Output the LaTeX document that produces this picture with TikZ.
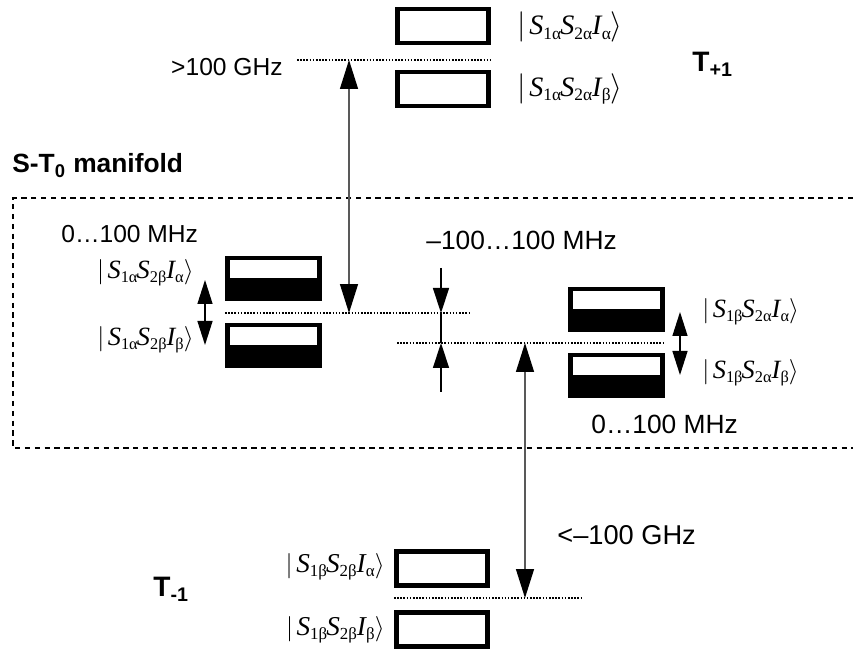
\documentclass[tikz,border=0pt]{standalone}
\usepackage{fontspec}
\setmainfont{Liberation Sans}
\newfontfamily\ketfont{Liberation Serif}
\usetikzlibrary{arrows.meta}
\newcommand{\ketsub}[1]{\raisebox{-0.35ex}{\fontsize{0.62\dimexpr\fontdimen6\font\relax}{1em}\selectfont #1}}
\newcommand{\ketlab}[3]{{\ketfont$\big|$\kern2pt\textit{S}\ketsub{#1}\kern-0.5pt\textit{S}\ketsub{#2}\textit{I}\kern-0.5pt\ketsub{#3}$\big\rangle$}}

\begin{document}
\begin{tikzpicture}[x=0.02cm,y=-0.02cm]
\tikzset{plainlevel/.style={draw, line width=2.7pt, minimum width=1.82cm, minimum height=0.68cm, inner sep=0pt},
  splitlevel/.style={fill=black, minimum width=1.94cm, minimum height=0.9cm, inner sep=0pt,
    path picture={\fill[white] ([xshift=0.1cm,yshift=-0.08cm]path picture bounding box.north west) rectangle ([xshift=-0.1cm,yshift=-0.44cm]path picture bounding box.north east);}},
  ketnode/.style={inner sep=0pt, font=\fontsize{16}{18}\selectfont},
  freqlab/.style={inner sep=0pt, anchor=base west, font=\fontsize{14}{16}\selectfont},
  manlab/.style={inner sep=0pt, anchor=base west, font=\fontsize{16}{18}\selectfont\bfseries},
  centre/.style={line width=1pt, dash pattern=on 0.9pt off 0.9pt},
  bigarrow/.style={{Triangle[black,width=0.36cm,length=0.58cm]}-{Triangle[black,width=0.36cm,length=0.58cm]}, gray!70!black, line width=0.8pt},
  pairarrow/.style={{Triangle[width=0.3cm,length=0.48cm]}-{Triangle[width=0.3cm,length=0.48cm]}, line width=0.8pt},
  shiftarrow/.style={-{Triangle[width=0.32cm,length=0.5cm]}, line width=0.8pt}}
\useasboundingbox (0,0) rectangle (853,651);
% T+1 levels
\node[plainlevel] (Tp1) at (443,26) {};
\node[plainlevel] (Tp2) at (443,89) {};
\node[ketnode, anchor=west] (kTp1) at (517,27) {\ketlab{1α}{2α}{α}};
\node[ketnode, anchor=west] (kTp2) at (517,89) {\ketlab{1α}{2α}{β}};
\coordinate (cTpL) at (297,60);
\coordinate (cTpR) at (490,60);
\coordinate (cTpA) at (349,60);
\draw[centre] (cTpL) -- (cTpR);
\node[freqlab, anchor=base east] (fTp) at (283,76) {>100 GHz};
\node[manlab] (nTp) at (692,72) {T\textsubscript{+1}};
% S-T0 manifold
\node[manlab, font=\fontsize{15}{17}\selectfont\bfseries] (nST) at (12,173) {S-T\textsubscript{0} manifold};
\coordinate (frTL) at (13,198);
\coordinate (frTR) at (853,198);
\coordinate (frBL) at (13,448);
\coordinate (frBR) at (853,448);
\draw[line width=1.3pt, dash pattern=on 3pt off 2.6pt] (frTR) -- (frTL) -- (frBL) -- (frBR);
% left pair
\node[freqlab] (fSa) at (61,243) {0…100 MHz};
\node[splitlevel] (Sa1) at (273.5,278.5) {};
\node[splitlevel] (Sa2) at (273.5,345.5) {};
\node[ketnode, anchor=east, font=\fontsize{15}{17}\selectfont] (kSa1) at (194,273) {\ketlab{1α}{2β}{α}};
\node[ketnode, anchor=east, font=\fontsize{15}{17}\selectfont] (kSa2) at (194,340) {\ketlab{1α}{2β}{β}};
\coordinate (cSaL) at (225,313);
\coordinate (cSaR) at (471,313);
\coordinate (cSaA) at (349,313);
\draw[centre] (cSaL) -- (cSaR);
\coordinate (pSa1) at (205,280);
\coordinate (pSa2) at (205,345);
\draw[pairarrow] (pSa1) -- (pSa2);
% shift between pairs
\node[freqlab, font=\fontsize{15}{17}\selectfont] (fSh) at (426,250) {–100…100 MHz};
\coordinate (cSbL) at (397,343);
\coordinate (cSbR) at (665,343);
\coordinate (cSbA) at (525,343);
\draw[centre] (cSbL) -- (cSbR);
\coordinate (sh1) at (441,268);
\coordinate (sh2) at (441,313);
\coordinate (sh3) at (441,343);
\coordinate (sh4) at (441,392);
\draw[shiftarrow] (sh1) -- (sh2);
\draw[shiftarrow] (sh4) -- (sh3);
\draw[line width=0.8pt] (sh2) -- (sh3);
% right pair
\node[splitlevel] (Sb1) at (616.5,309.5) {};
\node[splitlevel] (Sb2) at (616.5,375.5) {};
\node[ketnode, anchor=west, font=\fontsize{15}{17}\selectfont] (kSb1) at (702,312) {\ketlab{1β}{2α}{α}};
\node[ketnode, anchor=west, font=\fontsize{15}{17}\selectfont] (kSb2) at (702,373) {\ketlab{1β}{2α}{β}};
\coordinate (pSb1) at (680,312);
\coordinate (pSb2) at (680,375);
\draw[pairarrow] (pSb1) -- (pSb2);
\node[freqlab, font=\fontsize{15}{17}\selectfont] (fSb) at (591,434) {0…100 MHz};
% T-1 levels
\node[plainlevel] (Tm1) at (442,568.5) {};
\node[plainlevel] (Tm2) at (442,629.5) {};
\node[ketnode, anchor=east, font=\fontsize{15.5}{18}\selectfont] (kTm1) at (385,567) {\ketlab{1β}{2β}{α}};
\node[ketnode, anchor=east, font=\fontsize{15.5}{18}\selectfont] (kTm2) at (385,630) {\ketlab{1β}{2β}{β}};
\coordinate (cTmL) at (394,598);
\coordinate (cTmR) at (583,598);
\coordinate (cTmA) at (525,598);
\draw[centre] (cTmL) -- (cTmR);
\node[freqlab, font=\fontsize{15.5}{18}\selectfont] (fTm) at (557,545) {<–100 GHz};
\node[manlab] (nTm) at (153,597) {T\textsubscript{-1}};
% splittings
\draw[bigarrow] (cTpA) -- (cSaA);
\draw[bigarrow] (cSbA) -- (cTmA);
\end{tikzpicture}
\end{document}
